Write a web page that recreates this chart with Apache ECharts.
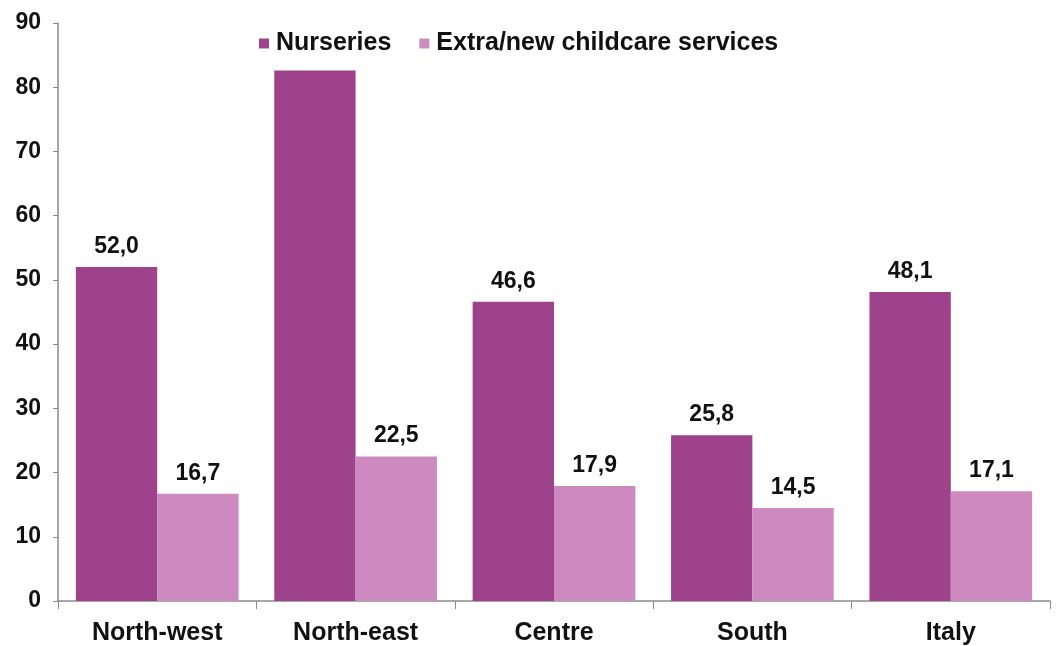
<!DOCTYPE html>
<html><head><meta charset="utf-8">
<script src="https://cdn.jsdelivr.net/npm/echarts@6/dist/echarts.min.js"></script>
<style>html,body{margin:0;padding:0;background:#fff}#c{width:1058px;height:646px}</style>
</head><body><div id="c"></div>
<script>
const categories = ['North-west', 'North-east', 'Centre', 'South', 'Italy'];
const nurseries = [52.0, 82.6, 46.6, 25.8, 48.1];
const extraServices = [16.7, 22.5, 17.9, 14.5, 17.1];
const hiddenLabels = [false, true, false, false, false];
const seriesNames = ['Nurseries', 'Extra/new childcare services'];

const FONT = 'Liberation Sans, Arial, sans-serif';
const fmt = p => p.value.toFixed(1).replace('.', ',');
const labelStyle = { show: true, position: 'top', distance: 9, fontFamily: FONT, fontWeight: 'bold', fontSize: 23, color: '#111', formatter: fmt };

const chart = echarts.init(document.getElementById('c'));
chart.setOption({
  animation: false,
  legend: {
    top: 26, left: 254, itemWidth: 10, itemHeight: 10, itemGap: 28,
    icon: 'rect',
    textStyle: { fontFamily: FONT, fontWeight: 'bold', fontSize: 25, color: '#111', padding: [0, 0, 0, 2] },
    data: seriesNames
  },
  grid: { left: 58, right: 8, top: 23, bottom: 45 },
  xAxis: {
    type: 'category', data: categories,
    axisLine: { lineStyle: { color: '#8a8a8a', width: 1.5 } },
    axisTick: { show: true, length: 8, lineStyle: { color: '#8a8a8a' } },
    axisLabel: { margin: 20, fontFamily: FONT, fontWeight: 'bold', fontSize: 25, color: '#111' }
  },
  yAxis: {
    type: 'value', min: 0, max: 90, interval: 10,
    splitLine: { show: false },
    axisLine: { show: true, lineStyle: { color: '#8a8a8a', width: 1.5 } },
    axisTick: { show: true, length: 5, lineStyle: { color: '#8a8a8a' } },
    axisLabel: { margin: 17, fontFamily: FONT, fontWeight: 'bold', fontSize: 23, color: '#111' }
  },
  series: [
    { name: seriesNames[0], type: 'bar', barGap: '0%', barCategoryGap: '18%',
      itemStyle: { color: '#9e428c' }, label: labelStyle,
      data: nurseries.map((v, i) => ({ value: v, label: { show: !hiddenLabels[i] } })) },
    { name: seriesNames[1], type: 'bar', barGap: '0%', barCategoryGap: '18%',
      itemStyle: { color: '#cd8ac1' }, label: labelStyle,
      data: extraServices }
  ]
});
</script></body></html>
